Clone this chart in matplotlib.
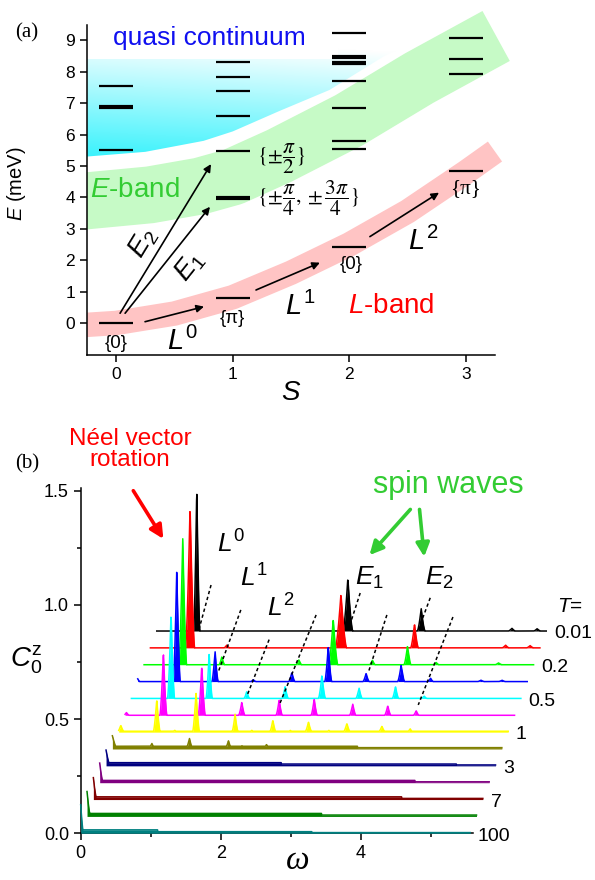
import numpy as np
import matplotlib.pyplot as plt
from matplotlib.patches import Polygon, Rectangle

plt.rcParams['font.family'] = ['Liberation Sans', 'DejaVu Sans']
plt.rcParams['mathtext.fontset'] = 'custom'
plt.rcParams['mathtext.rm'] = 'Liberation Sans'
plt.rcParams['mathtext.it'] = 'Liberation Sans:italic'
plt.rcParams['mathtext.bf'] = 'Liberation Sans:bold'

# ---------------- panel (a) data ----------------
S_values = [0, 1, 2, 3]
levels_S0 = [0.0, 5.51, 6.89, 7.56]
levels_S1 = [0.81, 3.98, 5.48, 6.59, 7.40, 7.83, 8.31]
levels_S2 = [2.43, 5.54, 5.80, 6.84, 7.71, 8.24, 8.32, 8.48, 9.23]
levels_S3 = [4.84, 7.92, 8.41, 9.09]
thick_levels = [(0, 6.89), (1, 3.98), (2, 8.48)]

# band centre lines
lband_S = [-0.45, -0.25, 0.0, 0.5, 1.0, 1.5, 2.0, 2.5, 3.0, 3.25]
lband_E = [-0.09, -0.06, 0.0, 0.3, 0.82, 1.6, 2.5, 3.55, 4.8, 5.46]
eband_S = [-0.45, -0.25, 0.29, 0.72, 1.0, 1.4, 2.0, 2.6, 3.26]
eband_E = [3.85, 3.89, 4.08, 4.36, 4.65, 5.32, 6.46, 7.8, 9.14]
# lower edge of the quasi continuum
qc_S = [-0.25, 0.25, 0.75, 1.0, 1.4, 1.83, 2.3, 2.78, 3.0, 3.3]
qc_E = [5.3, 5.45, 5.8, 6.1, 6.75, 7.42, 8.5, 9.33, 9.8, 10.4]

# ---------------- panel (b) data ----------------
T_labels = ['0.01', '', '0.2', '', '0.5', '', '1', '', '3', '', '7', '', '100']
curve_colors = ['#000000', '#FF0000', '#00FF00', '#0000FF', '#00FFFF', '#FF00FF',
                '#FFFF00', '#808000', '#000080', '#800080', '#800000', '#008000', '#008080']
y_step = 0.0738
x_step = 0.0905
omega_max = 5.56

# peaks: (local omega, height, half width), top curve first
peaks = [
    [(0.571, 0.625, 0.045), (2.728, 0.231, 0.07), (3.775, 0.099, 0.055), (5.07, 0.012, 0.05), (5.43, 0.01, 0.05)],
    [(0.566, 0.62, 0.065), (1.09, 0.012, 0.04), (2.72, 0.236, 0.08), (3.77, 0.105, 0.055), (5.07, 0.012, 0.05), (5.42, 0.01, 0.05)],
    [(0.552, 0.558, 0.055), (1.11, 0.035, 0.04), (2.21, 0.021, 0.04), (2.70, 0.20, 0.065), (3.26, 0.02, 0.04),
     (3.76, 0.08, 0.05), (4.17, 0.01, 0.04), (5.06, 0.008, 0.05)],
    [(0.0, 0.012, 0.03), (0.557, 0.487, 0.05), (1.104, 0.134, 0.045), (1.65, 0.008, 0.04), (2.2, 0.04, 0.045),
     (2.72, 0.156, 0.05), (3.26, 0.036, 0.045), (3.76, 0.071, 0.05), (4.18, 0.015, 0.04), (4.9, 0.006, 0.05), (5.2, 0.006, 0.05)],
    [(0.566, 0.374, 0.05), (1.11, 0.20, 0.045), (1.647, 0.031, 0.04), (2.195, 0.053, 0.045), (2.72, 0.103, 0.05),
     (3.25, 0.046, 0.045), (3.77, 0.053, 0.045), (4.18, 0.01, 0.04)],
    [(0.02, 0.012, 0.04), (0.547, 0.276, 0.05), (1.095, 0.218, 0.05), (1.666, 0.057, 0.045), (2.2, 0.069, 0.045),
     (2.70, 0.072, 0.045), (3.25, 0.05, 0.045), (3.75, 0.042, 0.045), (4.156, 0.02, 0.04)],
    [(0.03, 0.03, 0.05), (0.543, 0.143, 0.05), (0.8, 0.008, 0.05), (1.104, 0.174, 0.05), (1.661, 0.079, 0.045),
     (1.9, 0.008, 0.04), (2.2, 0.053, 0.045), (2.45, 0.008, 0.04), (2.709, 0.045, 0.05), (3.0, 0.008, 0.04),
     (3.257, 0.038, 0.05), (3.757, 0.026, 0.05), (4.16, 0.015, 0.04)],
    [(0.0, 0.058, 0.07), (0.563, 0.025, 0.05), (1.1, 0.047, 0.05), (1.657, 0.036, 0.05), (1.85, 0.015, 0.04),
     (2.2, 0.02, 0.05), (2.7, 0.012, 0.05)],
    [(0.0, 0.069, 0.06), (0.6, 0.012, 0.05), (1.1, 0.01, 0.05), (1.65, 0.012, 0.05), (2.2, 0.01, 0.05)],
    [(0.0, 0.086, 0.05)],
    [(0.0, 0.096, 0.05)],
    [(0.0, 0.109, 0.05)],
    [(0.0, 0.125, 0.04)],
]
# flat background: (start, end, level)
plateaus = [
    [], [], [], [], [], [],
    [(0.0, 5.56, 0.004)],
    [(0.0, 3.5, 0.012), (3.5, 5.56, 0.006)],
    [(0.0, 2.5, 0.014), (2.5, 5.0, 0.008), (5.0, 5.56, 0.004)],
    [(0.0, 4.5, 0.01), (4.5, 5.56, 0.004)],
    [(0.0, 4.4, 0.012), (4.4, 5.56, 0.005)],
    [(0.0, 3.35, 0.013), (3.35, 5.56, 0.006)],
    [(0.0, 1.1, 0.015), (1.1, 3.3, 0.007), (3.3, 5.56, 0.003)],
]
# dotted guide lines (omega0, C0, omega1, C1)
guides = [(1.861, 1.087, 1.694, 0.899), (2.286, 0.978, 1.966, 0.708), (2.69, 0.848, 2.37, 0.599),
          (3.361, 0.956, 2.847, 0.571), (3.99, 1.052, 3.82, 0.890), (4.371, 0.956, 4.104, 0.702),
          (4.99, 1.031, 4.819, 0.890), (5.314, 0.947, 4.819, 0.562)]

fig = plt.figure(figsize=(5.95, 8.8), dpi=100)

# ================= panel (a) =================
ax = fig.add_axes([0.1462, 0.5966, 0.6857, 0.375])
for sp in ['top', 'right']:
    ax.spines[sp].set_visible(False)
for sp in ['left', 'bottom']:
    ax.spines[sp].set_linewidth(1.1)
ax.set_xticks(S_values)
ax.set_yticks(range(10))
ax.tick_params(direction='out', length=5, width=1.1, labelsize=12.5)

clip = Rectangle((-0.25, -1.02), 6, 13, transform=ax.transData)

# quasi continuum gradient
gy = np.linspace(5.0, 10.5, 200)
gx = np.linspace(-0.25, 3.3, 50)
GX, GY = np.meshgrid(gx, gy)
t = np.clip((GY - 5.2) / 3.9 + 0.05 * GX, 0, 1)
cyan = np.array([0.22, 0.95, 0.99])
img = np.ones((len(gy), len(gx), 4))
for c in range(3):
    img[:, :, c] = cyan[c] * (1 - t) + t
qc_poly = Polygon(list(zip(qc_S, qc_E)) + [(3.3, 10.5), (-0.25, 10.5)], closed=True,
                  facecolor='none', edgecolor='none', transform=ax.transData)
ax.add_patch(qc_poly)
im = ax.imshow(img, extent=(-0.25, 3.3, 5.0, 10.5), origin='lower', aspect='auto', zorder=1)
im.set_clip_path(qc_poly)
ax.add_patch(Rectangle((-0.25, 8.4), 2.15, 2.0, facecolor='white', edgecolor='none', zorder=1.5))
ax.set_xlim(-0.25, 3.25)
ax.set_ylim(-1.02, 9.49)

band_g, = ax.plot(eband_S, eband_E, color='#C6FAC6', lw=41, solid_capstyle='butt',
                  solid_joinstyle='round', zorder=2)
band_g.set_clip_path(clip)
band_r, = ax.plot(lband_S, lband_E, color='#FFC4C4', lw=17.6, solid_capstyle='butt',
                  solid_joinstyle='round', zorder=2)
band_r.set_clip_path(clip)

for S, lev in zip(S_values, [levels_S0, levels_S1, levels_S2, levels_S3]):
    for E in lev:
        lw = 3.0 if (S, E) in thick_levels else 1.6
        ax.plot([S - 0.145, S + 0.145], [E, E], color='black', lw=lw, solid_capstyle='butt', zorder=4)

arrow_kw = dict(arrowstyle='-|>', color='black', lw=1.2, mutation_scale=11, shrinkA=0, shrinkB=0)
for (x0, y0, x1, y1) in [(0.248, 0.04, 0.754, 0.52), (1.2, 1.05, 1.748, 1.92), (2.177, 2.75, 2.77, 4.15),
                         (0.034, 0.31, 0.814, 5.06), (0.077, 0.31, 0.805, 3.70)]:
    ax.annotate('', xy=(x1, y1), xytext=(x0, y0), arrowprops=arrow_kw, zorder=5)

ax.text(-0.023, 8.85, 'quasi continuum', color='#1010F0', fontsize=19, ha='left', va='baseline', zorder=6)
ax.text(-0.223, 4.02, '$E$-band', color='#33CC33', fontsize=20, ha='left', va='baseline', zorder=6)
ax.text(1.99, 0.32, '$L$-band', color='#FF0000', fontsize=20, ha='left', va='baseline', zorder=6)
ax.text(0.434, -0.86, '$L^0$', fontsize=21, ha='left', va='baseline', zorder=6)
ax.text(1.448, 0.255, '$L^1$', fontsize=21, ha='left', va='baseline', zorder=6)
ax.text(2.506, 2.32, '$L^2$', fontsize=21, ha='left', va='baseline', zorder=6)
ax.text(0.234, 2.54, '$E_2$', fontsize=20, rotation=58.6, rotation_mode='anchor',
        ha='center', va='center', zorder=6)
ax.text(0.634, 1.79, '$E_1$', fontsize=20, rotation=51.4, rotation_mode='anchor',
        ha='center', va='center', zorder=6)
ax.text(0.0, -0.65, '{0}', fontsize=13.5, ha='center', va='center', zorder=6)
ax.text(1.0, 0.15, '{\u03c0}', fontsize=13.5, ha='center', va='center', zorder=6)
ax.text(2.02, 1.85, '{0}', fontsize=13.5, ha='center', va='center', zorder=6)
ax.text(3.0, 4.29, '{\u03c0}', fontsize=15, family='Liberation Serif', ha='center', va='center', zorder=6)
ax.text(1.205, 5.22, r'$\{\pm\dfrac{\pi}{2}\}$', fontsize=15.5, math_fontfamily='stix',
        ha='left', va='center', zorder=6)
ax.text(1.205, 3.97, r'$\{\pm\dfrac{\pi}{4},\pm\dfrac{3\pi}{4}\}$', fontsize=15.5, math_fontfamily='stix',
        ha='left', va='center', zorder=6)
ax.set_ylabel('$E$ (meV)', fontsize=14.5)
ax.yaxis.set_label_coords(-0.145, 0.52)
ax.set_xlabel('$S$', fontsize=20)
ax.xaxis.set_label_coords(0.50, -0.075)
fig.text(0.045, 0.9625, '(a)', family='Liberation Serif', fontsize=15, ha='center', va='center')

# ================= panel (b) =================
bx = fig.add_axes([0.1356, 0.0531, 0.6593, 0.3924])
bx.set_xlim(0, 5.6)
bx.set_ylim(0, 1.512)
for sp in ['top', 'right']:
    bx.spines[sp].set_visible(False)
for sp in ['left', 'bottom']:
    bx.spines[sp].set_linewidth(1.1)
bx.set_xticks([0, 2, 4])
bx.set_xticks([1, 3, 5], minor=True)
bx.set_yticks([0.0, 0.5, 1.0, 1.5])
bx.set_yticks([0.25, 0.75, 1.25], minor=True)
bx.set_yticklabels(['0.0', '0.5', '1.0', '1.5'])
bx.tick_params(which='major', direction='out', length=5, width=1.1, labelsize=13)
bx.tick_params(which='minor', direction='out', length=3, width=1.1)

w = np.linspace(0, omega_max, 1400)
ncurv = len(curve_colors)
for k in range(ncurv):
    level = ncurv - 1 - k
    base = level * y_step
    shift = level * x_step
    h = np.zeros_like(w)
    for (a, b, lvl) in plateaus[k]:
        h = np.where((w >= a) & (w <= b), np.maximum(h, lvl), h)
    for (p, hgt, hw) in peaks[k]:
        tri = hgt * np.clip(1 - np.abs(w - p) / hw, 0, 1) ** 1.5
        h = np.maximum(h, tri)
    x = w + shift
    bx.fill_between(x, base, base + h, color=curve_colors[k], lw=0, zorder=5 + k, clip_on=False)
    bx.plot(x, base + h, color=curve_colors[k], lw=1.1, zorder=5 + k, clip_on=False)
    if T_labels[k]:
        bx.text(omega_max + shift + 0.11, base - 0.012, T_labels[k], fontsize=14,
                ha='left', va='center', clip_on=False)

for (x0, y0, x1, y1) in guides:
    bx.plot([x0, x1], [y0, y1], color='black', lw=1.1, ls=(0, (2.2, 1.8)), zorder=40, clip_on=False)

bx.text(6.80, 0.991, '$T$=', fontsize=15, ha='left', va='center', clip_on=False)
bx.text(1.947, 1.227, '$L^0$', fontsize=19, ha='left', va='baseline')
bx.text(2.279, 1.078, '$L^1$', fontsize=19, ha='left', va='baseline')
bx.text(2.657, 0.947, '$L^2$', fontsize=19, ha='left', va='baseline')
bx.text(3.919, 1.087, '$E_1$', fontsize=19, ha='left', va='baseline')
bx.text(4.919, 1.087, '$E_2$', fontsize=19, ha='left', va='baseline')

bx.annotate('', xy=(1.18, 1.289), xytext=(0.751, 1.5), annotation_clip=False,
            arrowprops=dict(arrowstyle='-|>', color='#FF0000', lw=2.6, mutation_scale=20, shrinkA=0, shrinkB=0))
for (x0, y0, x1, y1) in [(4.706, 1.418, 4.123, 1.218), (4.837, 1.418, 4.904, 1.211)]:
    bx.annotate('', xy=(x1, y1), xytext=(x0, y0), annotation_clip=False,
                arrowprops=dict(arrowstyle='-|>', color='#33CC33', lw=2.6, mutation_scale=20,
                                shrinkA=0, shrinkB=0))

fig.text(0.2185, 0.489, 'N\u00e9el vector\nrotation', color='#FF0000', fontsize=17.5,
         ha='center', va='center', linespacing=0.95)
fig.text(0.753, 0.449, 'spin waves', color='#33CC33', fontsize=22, ha='center', va='center')
fig.text(0.044, 0.25, r'$C_0^{\mathrm{z}}$', fontsize=20, ha='center', va='center')
fig.text(0.50, 0.022, '\u03c9', family='Liberation Serif', style='italic', fontsize=24,
         ha='center', va='center')
fig.text(0.046, 0.473, '(b)', family='Liberation Serif', fontsize=15, ha='center', va='center')

fig.savefig('out.png', dpi=100)
